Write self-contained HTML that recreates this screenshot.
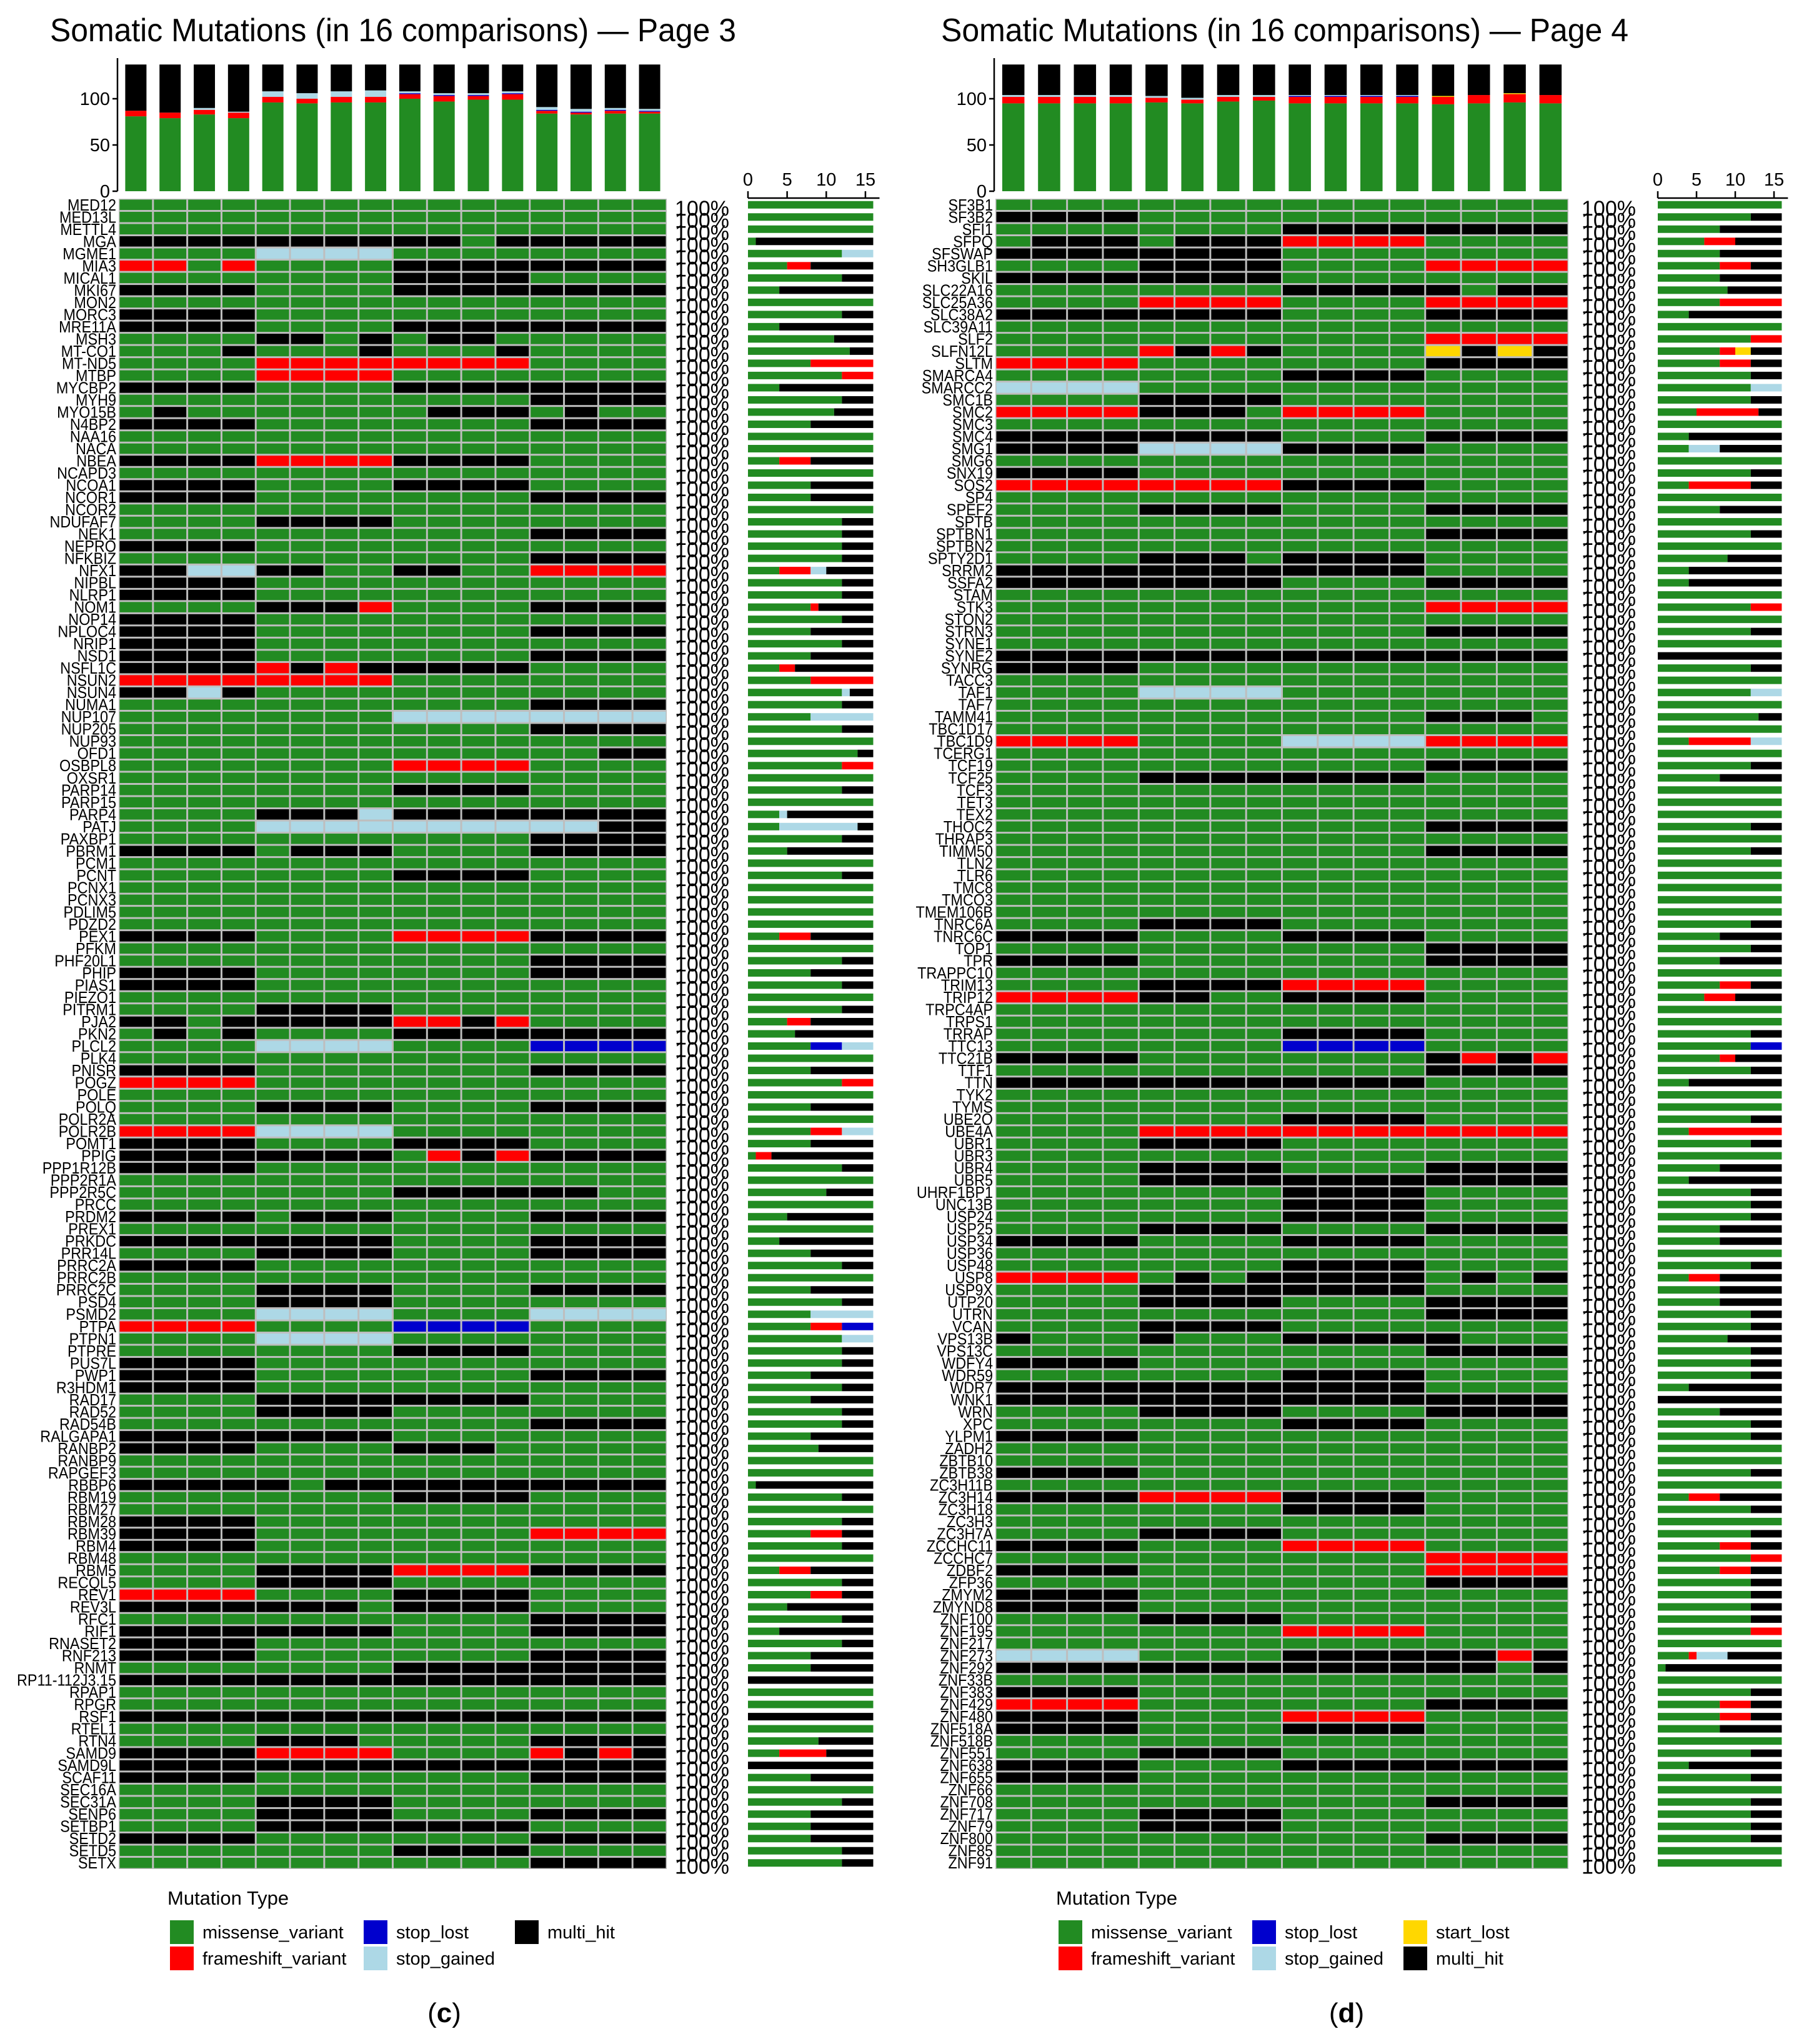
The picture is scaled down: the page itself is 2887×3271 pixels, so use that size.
<!DOCTYPE html>
<html><head><meta charset="utf-8">
<style>
html,body{margin:0;padding:0;background:#fff;}
svg{display:block;}
text{font-family:"Liberation Sans",Arial,sans-serif;}
</style></head>
<body>
<svg id="fig" xmlns="http://www.w3.org/2000/svg" width="2887" height="3271" viewBox="0 0 2887 3271"></svg>
<script>
// ---------- DATA ----------
// codes: g=missense_variant, r=frameshift_variant, b=stop_lost, l=stop_gained, y=start_lost, k=multi_hit
const genesC = ["MED12","MED13L","METTL4","MGA","MGME1","MIA3","MICAL1","MKI67","MON2","MORC3","MRE11A","MSH3","MT-CO1","MT-ND5","MTBP","MYCBP2","MYH9","MYO15B","N4BP2","NAA16","NACA","NBEA","NCAPD3","NCOA1","NCOR1","NCOR2","NDUFAF7","NEK1","NEPRO","NFKBIZ","NFX1","NIPBL","NLRP1","NOM1","NOP14","NPLOC4","NRIP1","NSD1","NSFL1C","NSUN2","NSUN4","NUMA1","NUP107","NUP205","NUP93","OFD1","OSBPL8","OXSR1","PARP14","PARP15","PARP4","PATJ","PAXBP1","PBRM1","PCM1","PCNT","PCNX1","PCNX3","PDLIM5","PDZD2","PEX1","PFKM","PHF20L1","PHIP","PIAS1","PIEZO1","PITRM1","PJA2","PKN2","PLCL2","PLK4","PNISR","POGZ","POLE","POLQ","POLR2A","POLR2B","POMT1","PPIG","PPP1R12B","PPP2R1A","PPP2R5C","PRCC","PRDM2","PREX1","PRKDC","PRR14L","PRRC2A","PRRC2B","PRRC2C","PSD4","PSMD2","PTPA","PTPN1","PTPRE","PUS7L","PWP1","R3HDM1","RAD17","RAD52","RAD54B","RALGAPA1","RANBP2","RANBP9","RAPGEF3","RBBP6","RBM19","RBM27","RBM28","RBM39","RBM4","RBM48","RBM5","RECQL5","REV1","REV3L","RFC1","RIF1","RNASET2","RNF213","RNMT","RP11-112J3.15","RPAP1","RPGR","RSF1","RTEL1","RTN4","SAMD9","SAMD9L","SCAF11","SEC16A","SEC31A","SENP6","SETBP1","SETD2","SETD5","SETX"];
const rowsC = ["gggggggggggggggg","gggggggggggggggg","gggggggggggggggg","kkkkkkkkkkgkkkkk","ggggllllgggggggg","rrgrggggkkkkkkkk","ggggggggkkkkgggg","kkkkggggkkkkkkkk","gggggggggggggggg","kkkkgggggggggggg",
"kkkkggggkkkkkkkk","ggggkkgkgkkggggg","gggkgggkgggkgggg","ggggrrrrrrrrgggg","ggggrrrrgggggggg","kkkkggggkkkkkkkk","ggggggggggggkkkk","gkgggggggkkkgkgg","kkkkggggggggkkkk","gggggggggggggggg",
"gggggggggggggggg","kkkkrrrrkkkkgggg","gggggggggggggggg","kkkkggggkkkkgggg","kkkkggggggggkkkk","gggggggggggggggg","ggggkkkkgggggggg","ggggggggggggkkkk","kkkkgggggggggggg","ggggggggggggkkkk",
"kkllkkggkkggrrrr","kkkkgggggggggggg","kkkkgggggggggggg","ggggkkkrggggkkkk","kkkkgggggggggggg","kkkkggggggggkkkk","kkkkgggggggggggg","kkkkggggggggkkkk","kkkkrkrkkkkkgggg","rrrrrrrrgggggggg",
"kklkgggggggggggg","ggggggggggggkkkk","ggggggggllllllll","ggggggggggggkkkk","gggggggggggggggg","ggggggggggggggkk","ggggggggrrrrgggg","gggggggggggggggg","ggggggggkkkkgggg","gggggggggggggggg",
"ggggkkklkkkkkkkk","ggggllllllllllkk","ggggggggggggkkkk","kkkkgkkkggggkkkk","gggggggggggggggg","ggggggggkkkkgggg","gggggggggggggggg","gggggggggggggggg","gggggggggggggggg","gggggggggggggggg",
"kkkkggggrrrrkkkk","gggggggggggggggg","ggggggggggggkkkk","kkkkggggggggkkkk","kkkkgggggggggggg","gggggggggggggggg","ggggkkkkgggggggg","kkgkkkkkrrkrgggg","gkgkggggkkkkkkkk","ggggllllggggbbbb",
"gggggggggggggggg","kkkkggggggggkkkk","rrrrgggggggggggg","gggggggggggggggg","ggggkkkkggggkkkk","gggggggggggggggg","rrrrllllgggggggg","kkkkggggkkkkgggg","kkkkkkkkgrkrkkkk","kkkkgggggggggggg",
"gggggggggggggggg","ggggggggkkkkkkgg","gggggggggggggggg","kkkkgkkkggggkkkk","gggggggggggggggg","kkkkkkkkggggkkkk","ggggkkkkggggkkkk","kkkkgggggggggggg","gggggggggggggggg","ggggkkkkggggkkkk",
"ggggkkkkgggggggg","ggggllllggggllll","rrrrggggbbbbgggg","ggggllllgggggggg","ggggggggkkkkgggg","kkkkgggggggggggg","kkkkggggggggkkkk","kkkkgggggggggggg","ggggkkkkkkkkgggg","ggggkkkkgggggggg",
"ggggggggggggkkkk","kkkkkkkkgggggggg","kkkkggggkkkggggg","gggggggggggggggg","gggggggggggggggg","kkkkkgkkkkkkkkkk","ggggggggkkkkgggg","gggggggggggggggg","kkkkgggggggggggg","kkkkggggggggrrrr",
"kkkkgggggggggggg","gggggggggggggggg","ggggkkkkrrrrkkkk","ggggkkkkgggggggg","rrrrggggkkkkgggg","kkkkkkkgkkkkgggg","ggggggggggggkkkk","kkkkkkkkggggkkkk","kkkkgggggggggggg","kkkkggggggggkkkk",
"ggggggggkkkkkkkk","kkkkkkkkkkkkkkkk","gggggggggggggggg","gggggggggggggggg","kkkkkkkkkkkkkkkk","gggggggggggggggg","ggggkkkgggggkkkk","kkkkrrrrggggrkrk","kkkkkkkkkkkkkkkk","kkkkggggggggkkkk",
"gggggggggggggggg","ggggkkkkgggggggg","ggggkkkkggggkkkk","ggggkkkkkkkkgggg","kkkkggggggggkkkk","ggggggggkkkkgggg","ggggggggggggkkkk"];
const genesD = ["SF3B1","SF3B2","SFI1","SFPQ","SFSWAP","SH3GLB1","SKIL","SLC22A16","SLC25A36","SLC38A2","SLC39A11","SLF2","SLFN12L","SLTM","SMARCA4","SMARCC2","SMC1B","SMC2","SMC3","SMC4","SMG1","SMG6","SNX19","SOS2","SP4","SPEF2","SPTB","SPTBN1","SPTBN2","SPTY2D1","SRRM2","SSFA2","STAM","STK3","STON2","STRN3","SYNE1","SYNE2","SYNRG","TACC3","TAF1","TAF7","TAMM41","TBC1D17","TBC1D9","TCERG1","TCF19","TCF25","TCF3","TET3","TEX2","THOC2","THRAP3","TIMM50","TLN2","TLR6","TMC8","TMCO3","TMEM106B","TNRC6A","TNRC6C","TOP1","TPR","TRAPPC10","TRIM13","TRIP12","TRPC4AP","TRPS1","TRRAP","TTC13","TTC21B","TTF1","TTN","TYK2","TYMS","UBE2O","UBE4A","UBR1","UBR3","UBR4","UBR5","UHRF1BP1","UNC13B","USP24","USP25","USP34","USP36","USP48","USP8","USP9X","UTP20","UTRN","VCAN","VPS13B","VPS13C","WDFY4","WDR59","WDR7","WNK1","WRN","XPC","YLPM1","ZADH2","ZBTB10","ZBTB38","ZC3H11B","ZC3H14","ZC3H18","ZC3H3","ZC3H7A","ZCCHC11","ZCCHC7","ZDBF2","ZFP36","ZMYM2","ZMYND8","ZNF100","ZNF195","ZNF217","ZNF273","ZNF292","ZNF33B","ZNF383","ZNF429","ZNF480","ZNF518A","ZNF518B","ZNF551","ZNF638","ZNF655","ZNF66","ZNF708","ZNF717","ZNF79","ZNF800","ZNF85","ZNF91"];
const rowsD = ["gggggggggggggggg","kkkkgggggggggggg","ggggggggkkkkkkkk","gkkkgkkkrrrrgggg","kkkkkkkkgggggggg","ggggkkkkggggrrrr","kkkkkkkkgggggggg","ggggggggkkkkkgkk","ggggrrrrggggrrrr","kkkkkkkkggggkkkk",
"gggggggggggggggg","ggggggggggggrrrr","ggggrkrkggggykyk","rrrrggggggggkkkk","ggggggggkkkkgggg","llllgggggggggggg","ggggkkkkgggggggg","rrrrkkkgrrrrgggg","gggggggggggggggg","kkkkkkkkggggkkkk",
"kkkkllllkkkkgggg","gggggggggggggggg","kkkkgggggggggggg","rrrrrrrrkkkkgggg","gggggggggggggggg","ggggkkkkggggkkkk","gggggggggggggggg","ggggggggggggkkkk","gggggggggggggggg","ggggkkkgkkkkgggg",
"kkkkkkkkkkkkgggg","kkkkkkkkggggkkkk","gggggggggggggggg","ggggggggggggrrrr","gggggggggggggggg","ggggggggggggkkkk","gggggggggggggggg","kkkkkkkkkkkkkkkk","kkkkgggggggggggg","gggggggggggggggg",
"ggggllllgggggggg","gggggggggggggggg","ggggggggggggkkkg","gggggggggggggggg","rrrrggggllllrrrr","gggggggggggggggg","ggggggggggggkkkk","ggggkkkkkkkkgggg","gggggggggggggggg","gggggggggggggggg",
"gggggggggggggggg","ggggggggggggkkkk","gggggggggggggggg","ggggggggggggkkkk","gggggggggggggggg","gggggggggggggggg","gggggggggggggggg","gggggggggggggggg","gggggggggggggggg","ggggkkkkgggggggg",
"kkkkggggkkkkgggg","ggggggggggggkkkk","kkkkggggggggkkkk","gggggggggggggggg","ggggkkkkrrrrgggg","rrrrkkggkkkkgggg","gggggggggggggggg","gggggggggggggggg","ggggggggkkkkgggg","ggggggggbbbbgggg",
"kkkkggggggggkrkr","ggggggggggggkkkk","kkkkkkkkkkkkgggg","gggggggggggggggg","gggggggggggggggg","ggggggggkkkkgggg","ggggrrrrrrrrrrrr","ggggkkkkgggggggg","gggggggggggggggg","ggggkkkkggggkkkk",
"ggggkkkkkkkkkkkk","ggggggggkkkkgggg","ggggggggkkkkgggg","ggggggggkkkkgggg","ggggkkkkggggkkkk","kkkkggggkkkkgggg","gggggggggggggggg","ggggggggkkkkgggg","rrrrgkgkkkkkgkgk","ggggkkkkkkkkgggg",
"ggggkkkkggggkkkk","ggggggggggggkkkk","ggggkkkkgggggggg","kgggkgggkkkkkggg","ggggggggggggkkkk","kkkkgggggggggggg","ggggggggkkkkgggg","kkkkkkkkkkkkgggg","kkkkkkkkkkkkkkkk","ggggkkkkggggkkkk",
"ggggggggkkkkgggg","kkkkgggggggggggg","gggggggggggggggg","gggggggggggggggg","kkkkgggggggggggg","gggggggggggggggg","kkkkrrrrkkkkgggg","ggggggggkkkkgggg","gggggggggggggggg","ggggkkkkgggggggg",
"kkkkggggrrrrgggg","ggggggggggggrrrr","kkkkggggggggrrrr","ggggggggggggkkkk","kkkkgggggggggggg","kkkkgggggggggggg","ggggkkkkgggggggg","ggggggggrrrrgggg","gggggggggggggggg","llllggggkkkkkkrk",
"kkkkkkkkkkkkkkgk","gggggggggggggggg","kkkkgggggggggggg","rrrrggggggggkkkk","kkkkggggrrrrgggg","kkkkggggkkkkgggg","gggggggggggggggg","ggggkkkkgggggggg","kkkkggggkkkkkkkk","kkkkgggggggggggg",
"gggggggggggggggg","ggggggggggggkkkk","ggggkkkkgggggggg","ggggkkkkgggggggg","ggggggggggggkkkk","gggggggggggggggg","gggggggggggggggg"];
const topTicks = [0,50,100];
const sideTicks = [0,5,10,15];
const stackOrder = ["g","r","b","l","y","k"];
const typeNames = {g:"missense_variant",r:"frameshift_variant",b:"stop_lost",l:"stop_gained",y:"start_lost",k:"multi_hit"};
const colors = {g:"#228B22",r:"#FF0000",b:"#0000CD",l:"#ADD8E6",y:"#FFD700",k:"#000000"};

// ---------- DRAW ----------
const NS="http://www.w3.org/2000/svg";
const svg=document.getElementById("fig");
function mk(tag,attrs,parent){const e=document.createElementNS(NS,tag);for(const k in attrs)e.setAttribute(k,attrs[k]);(parent||svg).appendChild(e);return e;}

function panel(P){
  const g=mk("g",{});
  
  
  const nR=P.rows.length, nC=16;
  const gy0=318, gy1=2991, rh=(gy1-gy0)/nR, cw=(P.gx1-P.gx0)/nC;
  const X=c=>P.gx0+c*cw, Y=r=>gy0+r*rh;
  const t=mk("text",{x:P.titleX,y:66,"font-size":52,"textLength":P.titleW,"lengthAdjust":"spacingAndGlyphs",fill:"#000"},g);
  t.textContent=P.title;
  
  
  const by0=306, bpx=1.48, Yb=v=>by0-v*bpx;
  const ax=mk("line",{x1:P.gx0-2,y1:93,x2:P.gx0-2,y2:by0,stroke:"#000","stroke-width":2.5},g);
  
  
  topTicks.forEach(v=>{
    mk("line",{x1:P.gx0-10,y1:Yb(v),x2:P.gx0-2,y2:Yb(v),stroke:"#000","stroke-width":2.5},g);
    const tl=mk("text",{x:P.gx0-14,y:Yb(v)+10,"font-size":29,"text-anchor":"end"},g);
    tl.textContent=v;
    
    
  });
  for(let c=0;c<nC;c++){
    let acc=0;
    const bw=cw*0.62, bx=X(c)+(cw-bw)/2;
    stackOrder.forEach(code=>{
      let n=0;P.rows.forEach(rw=>{if(rw[c]===code)n++;});
      if(!n)return;
      const rc=mk("rect",{x:bx,y:Yb(acc+n),width:bw,height:n*bpx,fill:colors[code]},g);
      
      
      acc+=n;
    });
  }
  const bg=mk("rect",{x:P.gx0,y:gy0,width:P.gx1-P.gx0,height:gy1-gy0,fill:"#BEBEBE"},g);
  
  
  const sx=v=>P.sx0+v*P.sk;
  const sa=mk("line",{x1:sx(0),y1:317,x2:sx(16.8),y2:317,stroke:"#000","stroke-width":2.5},g);
  
  
  sideTicks.forEach(v=>{
    mk("line",{x1:sx(v),y1:306,x2:sx(v),y2:317,stroke:"#000","stroke-width":2.5},g);
    const tl=mk("text",{x:sx(v),y:297,"font-size":29,"text-anchor":"middle"},g);
    tl.textContent=v;
    
    
  });
  P.rows.forEach((rw,r)=>{
    const lab=mk("text",{x:P.gx0-4,y:Y(r)+rh/2+9,"font-size":26,"text-anchor":"end",transform:`translate(${P.gx0-4},0) scale(0.9,1) translate(${-(P.gx0-4)},0)`},g);
    lab.textContent=P.genes[r];
    
    
    for(let c=0;c<nC;c++){
      const cell=mk("rect",{x:X(c)+1.5,y:Y(r)+1.5,width:cw-3,height:rh-3,fill:colors[rw[c]]},g);
      
      
    }
    const pc=mk("text",{x:P.pctX,y:Y(r)+27,"font-size":34,fill:"#000"},g);
    pc.textContent="100%";
    
    
    let acc=0;
    stackOrder.forEach(code=>{
      let n=0;for(const ch of rw)if(ch===code)n++;
      if(!n)return;
      const sb=mk("rect",{x:sx(acc),y:Y(r)+rh/2-6,width:n*P.sk,height:12,fill:colors[code]},g);
      
      
      acc+=n;
    });
  });
  const lt=mk("text",{x:P.legX,y:3048,"font-size":31},g);
  lt.textContent="Mutation Type";
  
  
  P.legend.forEach((it,i)=>{
    const lx=P.legX+P.legCols[it[1]], ly=it[2]===0?3073:3115;
    const sq=mk("rect",{x:lx,y:ly,width:38,height:38,fill:colors[it[0]]},g);
    
    
    const tx=mk("text",{x:lx+52,y:ly+29,"font-size":29},g);
    tx.textContent=typeNames[it[0]];
    
    
  });
  const cap=mk("text",{x:P.capX,y:3236,"font-size":44,"text-anchor":"middle","font-family":"Liberation Serif, serif"},g);
  
  
  cap.innerHTML='(<tspan font-weight="bold">'+P.id+'</tspan>)';
}

panel({id:"c",genes:genesC,rows:rowsC,gx0:190,gx1:1067,titleX:80,titleW:1098,title:"Somatic Mutations (in 16 comparisons) \u2014 Page 3",
  pctX:1080,sx0:1197,sk:12.53,legX:268,legCols:[4,314,556],capX:711,
  legend:[["g",0,0],["r",0,1],["b",1,0],["l",1,1],["k",2,0]]});
panel({id:"d",genes:genesD,rows:rowsD,gx0:1593,gx1:2510,titleX:1506,titleW:1100,title:"Somatic Mutations (in 16 comparisons) \u2014 Page 4",
  pctX:2531,sx0:2653,sk:12.4,legX:1690,legCols:[4,314,556],capX:2155,
  legend:[["g",0,0],["r",0,1],["b",1,0],["l",1,1],["y",2,0],["k",2,1]]});
</script>
</body></html>
